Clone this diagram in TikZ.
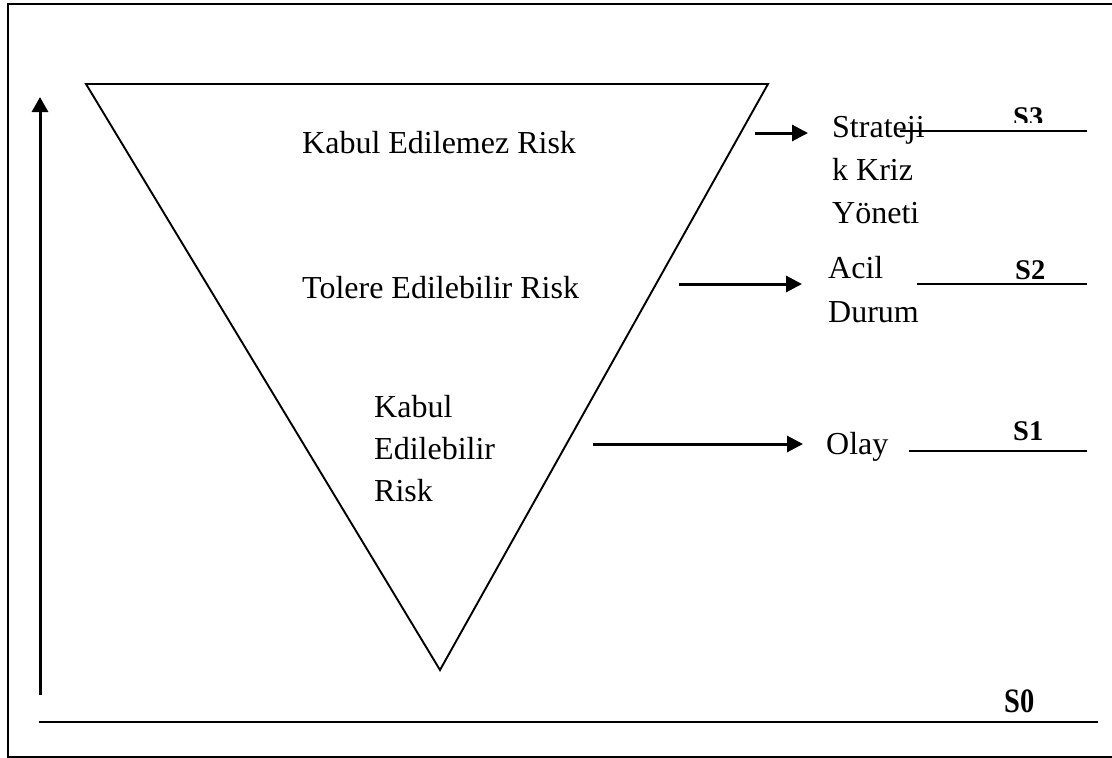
\documentclass[tikz,border=0pt]{standalone}
\usepackage{fontspec}
\setmainfont{Liberation Serif}
\usetikzlibrary{arrows.meta}

\tikzset{
  frame/.style={line width=2pt},
  funnel/.style={line width=1.9pt, line join=miter},
  flow/.style={line width=3pt, -{Triangle[length=16pt,width=16pt]}},
  axis/.style={line width=3pt, -{Triangle[length=15pt,width=16pt]}},
  level/.style={line width=2.2pt},
  ground/.style={line width=2.8pt},
  lbl/.style={anchor=base west, inner sep=0pt, font=\fontsize{32}{43}\selectfont},
  slbl/.style={anchor=base west, inner sep=0pt, font=\fontsize{28.5}{30}\selectfont\bfseries},
}

\newcommand{\stack}[1]{\begin{tabular}[t]{@{}l@{}}#1\end{tabular}}

\begin{document}
\begin{tikzpicture}[x=1pt,y=-1pt]
\useasboundingbox (0,0) rectangle (1112,758);

% open frame (runs off the right edge)
\draw[frame] (1112,4) -- (8,4) -- (8,756.5) -- (1112,756.5);

% inverted risk triangle
\coordinate (tl) at (86,84);
\coordinate (tr) at (768,84);
\coordinate (tip) at (440,670);
\draw[funnel] (tl) -- (tr) -- (tip) -- cycle;

% risk levels inside the triangle
\node[lbl] (unacc) at (302,153) {Kabul Edilemez Risk};
\node[lbl] (toler) at (302,298) {Tolere Edilebilir Risk};
\node[lbl, font=\fontsize{32}{42}\selectfont] (acc) at (374,417) {\stack{Kabul\\Edilebilir\\Risk}};

% responses on the right
\node[lbl] (strat) at (832,137) {\stack{Strateji\\k Kriz\\Yöneti}};
\node[lbl, font=\fontsize{32}{44}\selectfont] (acil) at (828,278) {\stack{Acil\\Durum}};
\node[lbl] (olay) at (826,454) {Olay};

% arrows from the risk levels to the responses
\coordinate (a3s) at (755,133);  \coordinate (a3e) at (808,133);
\coordinate (a2s) at (679,284);  \coordinate (a2e) at (802,284);
\coordinate (a1s) at (593,444);  \coordinate (a1e) at (803,444);
\draw[flow] (a3s) -- (a3e);
\draw[flow] (a2s) -- (a2e);
\draw[flow] (a1s) -- (a1e);

% level lines with their labels
\coordinate (l3s) at (900,131);  \coordinate (l3e) at (1087,131);
\coordinate (l2s) at (917,284);  \coordinate (l2e) at (1087,284);
\coordinate (l1s) at (909,451);  \coordinate (l1e) at (1087,451);
\draw[level] (l3s) -- (l3e);
\draw[level] (l2s) -- (l2e);
\draw[level] (l1s) -- (l1e);

\begin{scope}
  \clip (990,90) rectangle (1070,122.5);
  \node[slbl] (s3) at (1013,126) {S3};
\end{scope}
\node[slbl] (s2) at (1015,279) {S2};
\node[slbl] (s1) at (1013,440) {S1};
\node[slbl] (s0) at (1004,712.5) {\scalebox{1}[1.2]{S0}};

% axes
\coordinate (vb) at (40,695);
\coordinate (vt) at (40,97);
\draw[axis] (vb) -- (vt);
\coordinate (hs) at (39,722);
\coordinate (he) at (1098,722);
\draw[ground] (hs) -- (he);
\end{tikzpicture}
\end{document}
